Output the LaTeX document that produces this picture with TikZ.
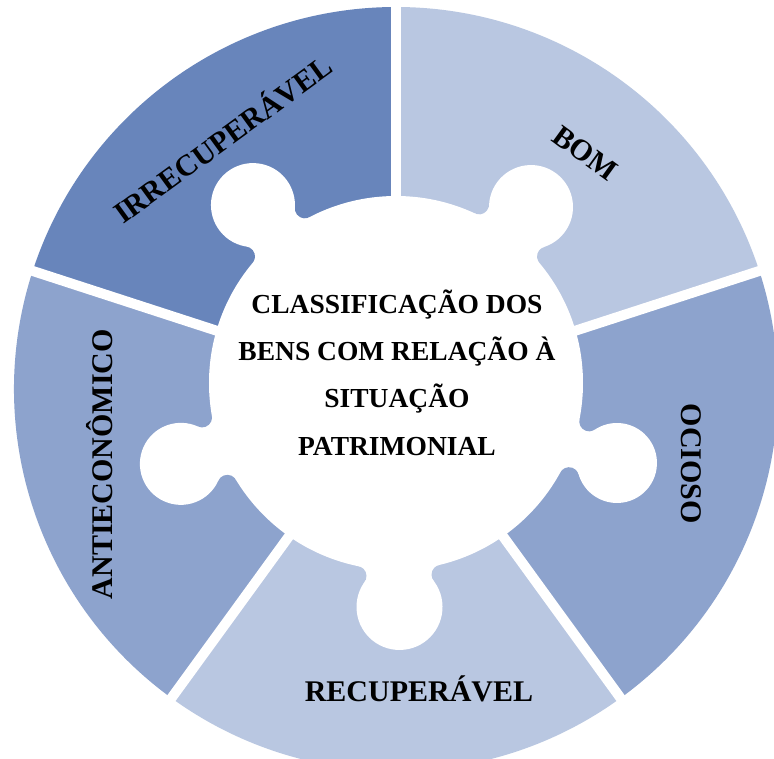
\documentclass[tikz,border=0pt]{standalone}
\usepackage{fontspec}
\setmainfont{Liberation Serif}
\usetikzlibrary{calc}
\definecolor{segdark}{HTML}{6885BB}
\definecolor{segmid}{HTML}{8DA3CD}
\definecolor{seglight}{HTML}{B9C7E1}
\newcommand{\pzR}{187}
\newcommand{\pzF}{10}
% knob of the centre piece, relative to the centre (0,6)
% #1 angle, #2 distance of knob centre, #3 knob radius, #4 colour of the segment
\newcommand{\pzknob}[4]{%
  \pgfmathsetmacro{\pzA}{((#2/100)^2 + ((\pzR+\pzF)/100)^2 - ((#3+\pzF)/100)^2)/(2*#2/100)*100}%
  \pgfmathsetmacro{\pzL}{sqrt(((\pzR+\pzF)/100)^2 - (\pzA/100)^2)*100}%
  \pgfmathsetmacro{\pzQ}{\pzR/(\pzR+\pzF)}%
  \pgfmathsetmacro{\pzTa}{\pzA*\pzQ}%
  \pgfmathsetmacro{\pzTl}{\pzL*\pzQ}%
  \pgfmathsetmacro{\pzP}{#3/(#3+\pzF)}%
  \pgfmathsetmacro{\pzSa}{#2+(\pzA-#2)*\pzP}%
  \pgfmathsetmacro{\pzSl}{\pzL*\pzP}%
  \begin{scope}[shift={(0,6)}, rotate=#1]
    \fill[white] (\pzTa,\pzTl) -- (\pzSa,\pzSl) -- (\pzSa,-\pzSl) -- (\pzTa,-\pzTl) -- cycle;
    \fill[#4] (\pzA,\pzL) circle[radius=\pzF];
    \fill[#4] (\pzA,-\pzL) circle[radius=\pzF];
    \fill[white] (#2,0) circle[radius=#3];
  \end{scope}
}
\begin{document}
\begin{tikzpicture}[x=1pt,y=1pt,
  lbl/.style={font=\fontsize{30}{36}\selectfont\bfseries, text height=20pt, text depth=0pt, inner sep=0pt, anchor=center},
  ctr/.style={font=\fontsize{27.5}{32}\selectfont\bfseries, inner sep=0pt, anchor=base}]
\useasboundingbox (-396,-369) rectangle (378,389);
\fill[white] (-396,-369) rectangle (378,389);
% segments
\fill[segdark]  (0,0) -- (90:382) arc[start angle=90, end angle=162, radius=382] -- cycle;
\fill[seglight] (0,0) -- (18:382) arc[start angle=18, end angle=90, radius=382] -- cycle;
\fill[segmid]   (0,0) -- (-54:382) arc[start angle=-54, end angle=18, radius=382] -- cycle;
\fill[seglight] (0,0) -- (-126:382) arc[start angle=-126, end angle=-54, radius=382] -- cycle;
\fill[segmid]   (0,0) -- (162:382) arc[start angle=162, end angle=234, radius=382] -- cycle;
% gaps
\foreach \g in {90,18,-54,-126,162}
  \draw[white, line width=10pt] (0,0) -- (\g:400);
% necks and knobs of the puzzle centre
\pzknob{128.8}{228.3}{42}{segdark}
\pzknob{52.5}{221.8}{42}{seglight}
\pzknob{-19.9}{235}{40}{segmid}
\pzknob{-89.1}{224}{43}{seglight}
\pzknob{200.6}{229.8}{41}{segmid}
% centre
\fill[white] (0,6) circle[radius=\pzR];
% texts
\node[ctr] (c1) at (1,76) {CLASSIFICAÇÃO DOS};
\node[ctr] (c2) at (1,29) {BENS COM RELAÇÃO À};
\node[ctr] (c3) at (1,-18) {SITUAÇÃO};
\node[ctr] (c4) at (1,-66) {PATRIMONIAL};
\node[lbl, rotate=36] (irr) at (-173,249) {IRRECUPERÁVEL};
\node[lbl, rotate=-36] (bom) at (189,236) {BOM};
\node[lbl, rotate=-90] (oci) at (295,-75) {OCIOSO};
\node[lbl] (rec) at (23,-302) {RECUPERÁVEL};
\node[lbl, rotate=90] (ant) at (-293.5,-75) {ANTIECONÔMICO};
\end{tikzpicture}
\end{document}
